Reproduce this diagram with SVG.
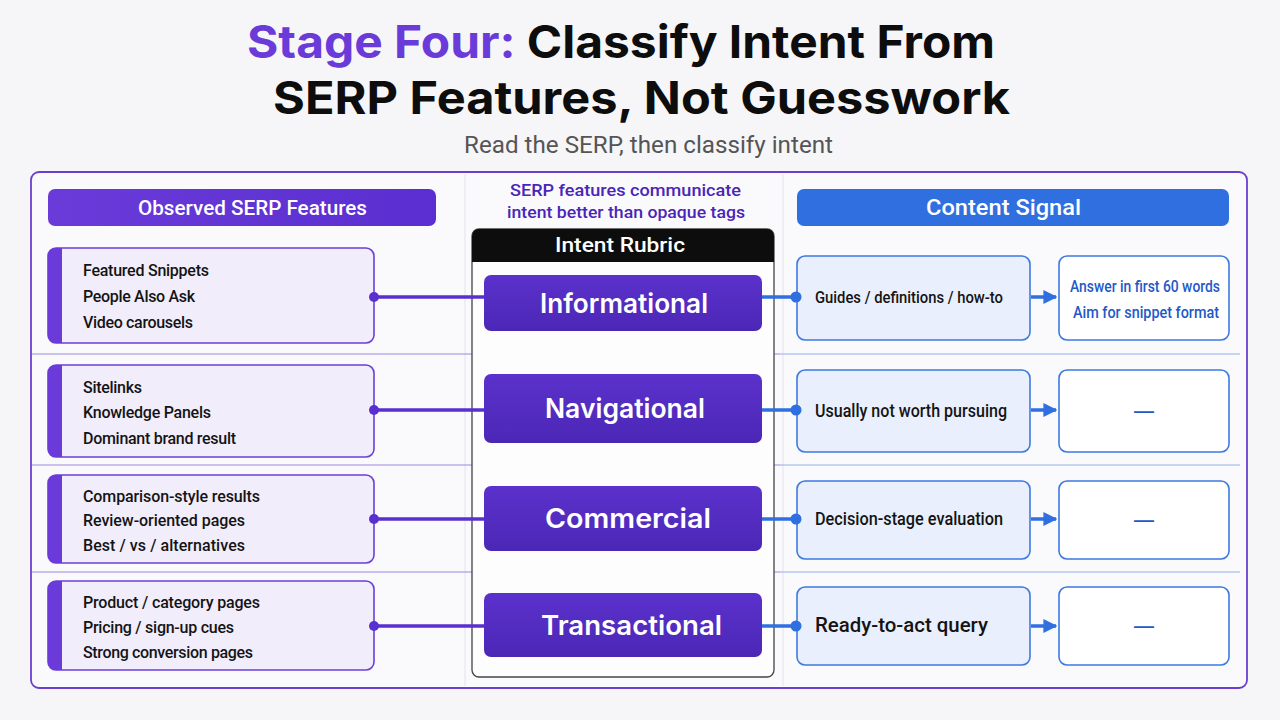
<svg xmlns="http://www.w3.org/2000/svg" width="1280" height="720" viewBox="0 0 1280 720">
<defs>
<linearGradient id="gPurple" x1="0" y1="0" x2="1" y2="0">
<stop offset="0" stop-color="#6a3bd9"/><stop offset="1" stop-color="#5a2ed0"/>
</linearGradient>
<linearGradient id="gPill" x1="0" y1="0" x2="0" y2="1">
<stop offset="0" stop-color="#5b31cc"/><stop offset="1" stop-color="#4b27b6"/>
</linearGradient>
<marker id="arrow" viewBox="0 0 10 10" refX="9" refY="5" markerWidth="4" markerHeight="4" orient="auto" markerUnits="strokeWidth">
<path d="M0,0 L10,5 L0,10 z" fill="#2f6fe0"/>
</marker>
<style>
text{font-family:Roboto,"Liberation Sans",sans-serif}
.title{font-family:Inter,"Liberation Sans",sans-serif;font-size:45px;font-weight:700;fill:#0d0d0d}
.sub{font-size:23px;fill:#555;font-weight:400}
.hdr{font-size:21px;font-weight:500;fill:#fff}
.cap{font-size:17px;font-weight:500;fill:#4a25b8}
.feat{fill:#f1edfb;stroke:#6a3fd8;stroke-width:1.6}
.bar{fill:#6a3bd9}
.ft{font-size:16px;font-weight:500;fill:#141414}
.pill{fill:url(#gPill)}
.pt{font-family:Inter,"Liberation Sans",sans-serif;font-size:27px;font-weight:600;fill:#fff}
.cs{fill:#e9effc;stroke:#3d7ae0;stroke-width:1.6}
.ct{font-weight:500;fill:#141414}
.out{fill:#fff;stroke:#3d7ae0;stroke-width:1.6}
.ot{font-size:16px;font-weight:500;fill:#2358c8}
.dash{font-family:"Liberation Sans",sans-serif;font-size:18px;font-weight:700;fill:#2358c8}
.pl{stroke:#5a2fcf;stroke-width:3.5}
.bl{stroke:#2f6fe0;stroke-width:3.5}
.pd{fill:#5a2fcf}
.bd{fill:#2f6fe0}
</style>
</defs>
<rect width="1280" height="720" fill="#f6f6f9"/>
<g id="title">
<text class="title" x="247" y="58" textLength="748" lengthAdjust="spacingAndGlyphs"><tspan fill="#6a3bd9">Stage Four:</tspan> Classify Intent From</text>
<text class="title" x="273" y="114" textLength="737" lengthAdjust="spacingAndGlyphs">SERP Features, Not Guesswork</text>
<text class="sub" x="464" y="153" textLength="369" lengthAdjust="spacingAndGlyphs">Read the SERP, then classify intent</text>
</g>
<g id="frame">
<rect x="31" y="172" width="1216" height="516" rx="8" fill="#fafafd" stroke="#6a3fd0" stroke-width="1.8"/>
<line x1="465" y1="174" x2="465" y2="686" stroke="#e6e6ee" stroke-width="1.2"/>
<line x1="783" y1="174" x2="783" y2="686" stroke="#e6e6ee" stroke-width="1.2"/>
<line x1="32" y1="354" x2="780" y2="354" stroke="#9b86e0" stroke-width="1.2"/>
<line x1="780" y1="354" x2="1240" y2="354" stroke="#8fb0ea" stroke-width="1.2"/>
<line x1="32" y1="465" x2="780" y2="465" stroke="#9b86e0" stroke-width="1.2"/>
<line x1="780" y1="465" x2="1240" y2="465" stroke="#8fb0ea" stroke-width="1.2"/>
<line x1="32" y1="572" x2="780" y2="572" stroke="#9b86e0" stroke-width="1.2"/>
<line x1="780" y1="572" x2="1240" y2="572" stroke="#8fb0ea" stroke-width="1.2"/>
</g>
<g id="header-features">
<rect x="48" y="189" width="388" height="37" rx="7" fill="url(#gPurple)"/>
<text class="hdr" x="138" y="215" textLength="229" lengthAdjust="spacingAndGlyphs">Observed SERP Features</text>
</g>
<g id="caption">
<text class="cap" x="510" y="196" textLength="231" lengthAdjust="spacingAndGlyphs">SERP features communicate</text>
<text class="cap" x="507" y="218" textLength="238" lengthAdjust="spacingAndGlyphs">intent better than opaque tags</text>
</g>
<g id="header-signal">
<rect x="797" y="189" width="432" height="37" rx="7" fill="#2f6fe0"/>
<text class="hdr" x="926" y="215" textLength="155" lengthAdjust="spacingAndGlyphs" style="font-size:22px">Content Signal</text>
</g>
<g id="rubric">
<rect x="472" y="229" width="302" height="448" rx="7" fill="#fdfdfe" stroke="#444" stroke-width="1.3"/>
<path d="M472,262 V236 a7,7 0 0 1 7,-7 H767 a7,7 0 0 1 7,7 V262 Z" fill="#0d0d0d"/>
<text x="555" y="252" textLength="130" lengthAdjust="spacingAndGlyphs" style="font-size:20px;font-weight:500;fill:#fff">Intent Rubric</text>
</g>
<g id="feat-1">
<rect class="feat" x="48" y="248" width="326" height="95" rx="8"/>
<path class="bar" d="M56,248 H62 V343 H56 a8,8 0 0 1 -8,-8 V256 a8,8 0 0 1 8,-8 Z"/>
<text class="ft" x="83" y="276" textLength="126">Featured Snippets</text>
<text class="ft" x="83" y="302" textLength="112">People Also Ask</text>
<text class="ft" x="83" y="328" textLength="110">Video carousels</text>
</g>
<g id="feat-2">
<rect class="feat" x="48" y="365" width="326" height="92" rx="8"/>
<path class="bar" d="M56,365 H62 V457 H56 a8,8 0 0 1 -8,-8 V373 a8,8 0 0 1 8,-8 Z"/>
<text class="ft" x="83" y="393" textLength="59">Sitelinks</text>
<text class="ft" x="83" y="418" textLength="128">Knowledge Panels</text>
<text class="ft" x="83" y="444" textLength="153">Dominant brand result</text>
</g>
<g id="feat-3">
<rect class="feat" x="48" y="475" width="326" height="88" rx="8"/>
<path class="bar" d="M56,475 H62 V563 H56 a8,8 0 0 1 -8,-8 V483 a8,8 0 0 1 8,-8 Z"/>
<text class="ft" x="83" y="502" textLength="177">Comparison-style results</text>
<text class="ft" x="83" y="526" textLength="162">Review-oriented pages</text>
<text class="ft" x="83" y="551" textLength="162">Best / vs / alternatives</text>
</g>
<g id="feat-4">
<rect class="feat" x="48" y="581" width="326" height="89" rx="8"/>
<path class="bar" d="M56,581 H62 V670 H56 a8,8 0 0 1 -8,-8 V589 a8,8 0 0 1 8,-8 Z"/>
<text class="ft" x="83" y="608" textLength="177">Product / category pages</text>
<text class="ft" x="83" y="633" textLength="151">Pricing / sign-up cues</text>
<text class="ft" x="83" y="658" textLength="170">Strong conversion pages</text>
</g>
<g id="intent-informational">
<rect class="pill" x="484" y="275" width="278" height="56" rx="7"/>
<text class="pt" x="540" y="313" textLength="168" lengthAdjust="spacingAndGlyphs">Informational</text>
</g>
<g id="intent-navigational">
<rect class="pill" x="484" y="374" width="278" height="69" rx="7"/>
<text class="pt" x="545" y="418" textLength="160" lengthAdjust="spacingAndGlyphs">Navigational</text>
</g>
<g id="intent-commercial">
<rect class="pill" x="484" y="486" width="278" height="65" rx="7"/>
<text class="pt" x="545" y="528" textLength="166" lengthAdjust="spacingAndGlyphs">Commercial</text>
</g>
<g id="intent-transactional">
<rect class="pill" x="484" y="593" width="278" height="64" rx="7"/>
<text class="pt" x="541" y="635" textLength="181" lengthAdjust="spacingAndGlyphs">Transactional</text>
</g>
<g id="signal-1">
<rect class="cs" x="797" y="256" width="233" height="84" rx="8"/>
<text class="ct" x="815" y="303" textLength="188" lengthAdjust="spacingAndGlyphs" style="font-size:16px">Guides / definitions / how-to</text>
</g>
<g id="signal-2">
<rect class="cs" x="797" y="370" width="233" height="82" rx="8"/>
<text class="ct" x="815" y="417" textLength="192" lengthAdjust="spacingAndGlyphs" style="font-size:17.5px">Usually not worth pursuing</text>
</g>
<g id="signal-3">
<rect class="cs" x="797" y="481" width="233" height="78" rx="8"/>
<text class="ct" x="815" y="525" textLength="188" lengthAdjust="spacingAndGlyphs" style="font-size:18.5px">Decision-stage evaluation</text>
</g>
<g id="signal-4">
<rect class="cs" x="797" y="587" width="233" height="78" rx="8"/>
<text class="ct" x="815" y="632" textLength="173" lengthAdjust="spacingAndGlyphs" style="font-size:20px">Ready-to-act query</text>
</g>
<g id="out-1">
<rect class="out" x="1059" y="256" width="170" height="84" rx="8"/>
<text class="ot" x="1070" y="292" textLength="150" lengthAdjust="spacingAndGlyphs">Answer in first 60 words</text>
<text class="ot" x="1073" y="318" textLength="146" lengthAdjust="spacingAndGlyphs">Aim for snippet format</text>
</g>
<g id="out-2">
<rect class="out" x="1059" y="370" width="170" height="82" rx="8"/>
<text class="dash" x="1134" y="417" textLength="20" lengthAdjust="spacingAndGlyphs">—</text>
</g>
<g id="out-3">
<rect class="out" x="1059" y="481" width="170" height="78" rx="8"/>
<text class="dash" x="1134" y="526" textLength="20" lengthAdjust="spacingAndGlyphs">—</text>
</g>
<g id="out-4">
<rect class="out" x="1059" y="587" width="170" height="78" rx="8"/>
<text class="dash" x="1134" y="632" textLength="20" lengthAdjust="spacingAndGlyphs">—</text>
</g>
<g id="connectors">
<line class="pl" x1="374" y1="297" x2="484" y2="297"/>
<line class="pl" x1="374" y1="410" x2="484" y2="410"/>
<line class="pl" x1="374" y1="519" x2="484" y2="519"/>
<line class="pl" x1="374" y1="626" x2="484" y2="626"/>
<circle class="pd" cx="374" cy="297" r="5"/>
<circle class="pd" cx="374" cy="410" r="5"/>
<circle class="pd" cx="374" cy="519" r="5"/>
<circle class="pd" cx="374" cy="626" r="5"/>
<line class="bl" x1="762" y1="297" x2="796" y2="297"/>
<line class="bl" x1="762" y1="410" x2="796" y2="410"/>
<line class="bl" x1="762" y1="519" x2="796" y2="519"/>
<line class="bl" x1="762" y1="626" x2="796" y2="626"/>
<circle class="bd" cx="796" cy="297" r="5.5"/>
<circle class="bd" cx="796" cy="410" r="5.5"/>
<circle class="bd" cx="796" cy="519" r="5.5"/>
<circle class="bd" cx="796" cy="626" r="5.5"/>
<line class="bl" x1="1031" y1="297" x2="1056" y2="297" marker-end="url(#arrow)"/>
<line class="bl" x1="1031" y1="410" x2="1056" y2="410" marker-end="url(#arrow)"/>
<line class="bl" x1="1031" y1="519" x2="1056" y2="519" marker-end="url(#arrow)"/>
<line class="bl" x1="1031" y1="626" x2="1056" y2="626" marker-end="url(#arrow)"/>
</g>
</svg>
